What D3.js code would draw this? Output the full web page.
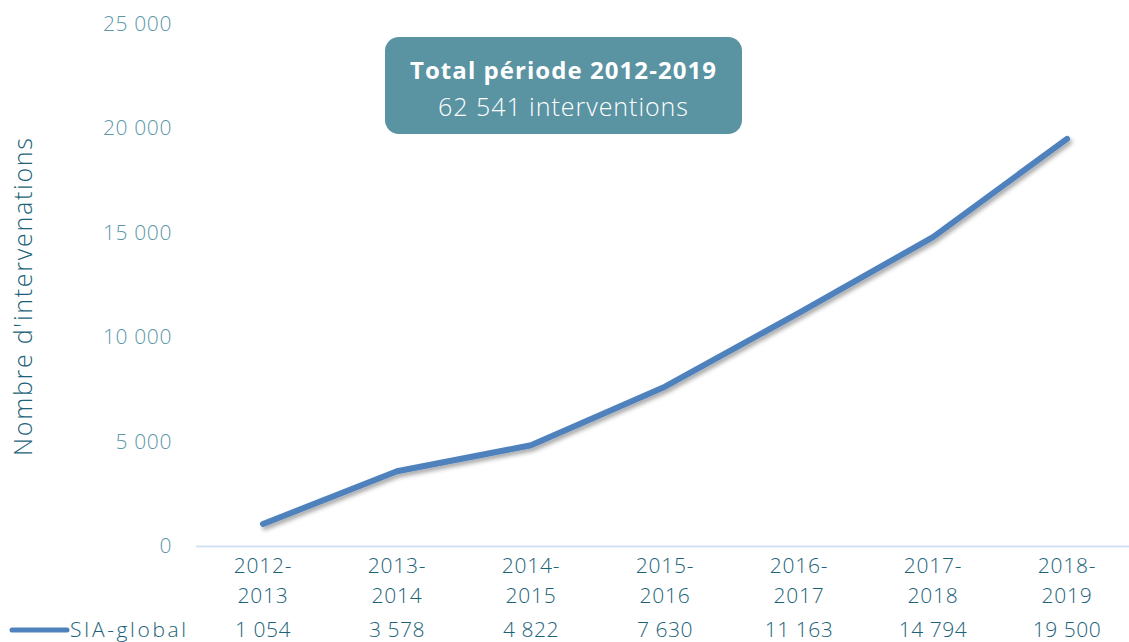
<!DOCTYPE html>
<html><head><meta charset="utf-8">
<script src="https://cdn.jsdelivr.net/npm/d3@7"></script>
<style>
body{margin:0;background:#fff;}
text{font-family:"Open Sans",Lato,sans-serif;}
</style></head>
<body><svg id="c" width="1129" height="642"></svg>
<script>
const categories = [["2012-","2013"],["2013-","2014"],["2014-","2015"],["2015-","2016"],["2016-","2017"],["2017-","2018"],["2018-","2019"]];
const seriesName = "SIA-global";
const values = [1054, 3578, 4822, 7630, 11163, 14794, 19500];
const valueLabels = ["1 054","3 578","4 822","7 630","11 163","14 794","19 500"];
const yTicks = [0, 5000, 10000, 15000, 20000, 25000];
const boxTitle = "Total période 2012-2019";
const boxSub = "62 541 interventions";
const yTitle = "Nombre d'intervenations";

const svg = d3.select("#c");
const keys = categories.map(c => c.join(""));
const x = d3.scaleBand().domain(keys).range([196, 1134]);
const y = d3.scaleLinear().domain([0, 25000]).range([546, 24]);
const fmt = v => d3.format(",")(v).replace(/,/g, " ");
const cx = i => x(keys[i]) + x.bandwidth() / 2;

const defs = svg.append("defs");
const f = defs.append("filter").attr("id","sh").attr("x","-10%").attr("y","-10%").attr("width","130%").attr("height","130%");
f.append("feDropShadow").attr("dx",2).attr("dy",3).attr("stdDeviation",2).attr("flood-color","#000").attr("flood-opacity",0.35);

// y tick labels
svg.append("g").selectAll("text").data(yTicks).join("text")
  .attr("x", 172).attr("y", d => y(d) + 7)
  .attr("text-anchor","end").attr("font-size",21).attr("font-weight",300)
  .attr("letter-spacing",0.6)
  .attr("fill","#5b97a8").text(fmt);

// axis line
svg.append("line").attr("x1",196).attr("x2",1129).attr("y1",y(0)+0.5).attr("y2",y(0)+0.5)
  .attr("stroke","#d3e1f1").attr("stroke-width",2);

// category labels
const cg = svg.append("g").selectAll("text").data(categories).join("text")
  .attr("text-anchor","middle").attr("font-size",21).attr("font-weight",300)
  .attr("letter-spacing",0.8).attr("fill","#1b6278");
cg.append("tspan").attr("x",(d,i)=>cx(i)).attr("y",573).text(d=>d[0]);
cg.append("tspan").attr("x",(d,i)=>cx(i)).attr("y",603).text(d=>d[1]);

// line
const line = d3.line().x((d,i)=>cx(i)).y(d=>y(d));
svg.append("path").datum(values).attr("d",line).attr("fill","none")
  .attr("stroke","#4f81bd").attr("stroke-width",6).attr("stroke-linecap","round").attr("stroke-linejoin","round")
  .attr("filter","url(#sh)");

// legend row
svg.append("line").attr("x1",12).attr("x2",67).attr("y1",630).attr("y2",630)
  .attr("stroke","#4f81bd").attr("stroke-width",5).attr("stroke-linecap","round");
svg.append("text").attr("x",70).attr("y",637).attr("font-size",21).attr("font-weight",300)
  .attr("textLength",116).attr("lengthAdjust","spacing")
  .attr("fill","#1b6278").text(seriesName);
svg.append("g").selectAll("text").data(valueLabels).join("text")
  .attr("x",(d,i)=>cx(i)).attr("y",637)
  .attr("text-anchor","middle").attr("font-size",21).attr("font-weight",300)
  .attr("letter-spacing",0.5)
  .attr("fill","#1b6278").text(d=>d);

// y title
svg.append("text").attr("transform","translate(32,297) rotate(-90)")
  .attr("text-anchor","middle").attr("font-size",25).attr("font-weight",300)
  .attr("textLength",318).attr("lengthAdjust","spacing")
  .attr("fill","#1b6278").text(yTitle);

// box
svg.append("rect").attr("x",385).attr("y",37).attr("width",357).attr("height",97).attr("rx",14)
  .attr("fill","#5a93a2");
svg.append("text").attr("x",563).attr("y",79).attr("text-anchor","middle").attr("font-size",24)
  .attr("font-weight",700).attr("textLength",306).attr("lengthAdjust","spacing")
  .attr("fill","#fff").text(boxTitle);
svg.append("text").attr("x",563).attr("y",116).attr("text-anchor","middle").attr("font-size",25)
  .attr("font-weight",300).attr("textLength",250).attr("lengthAdjust","spacing")
  .attr("fill","#fff").text(boxSub);
</script></body></html>
